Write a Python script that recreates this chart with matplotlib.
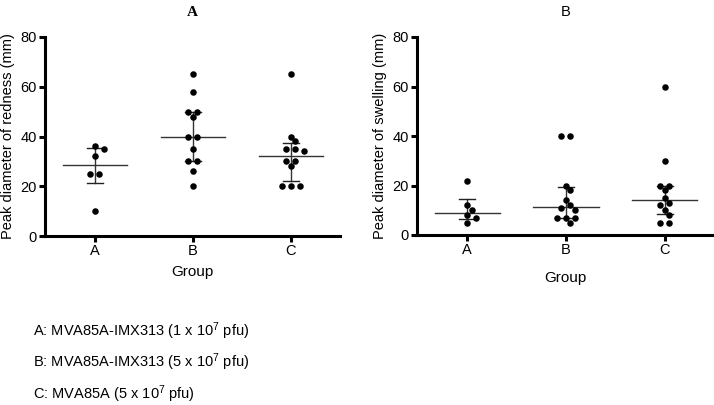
import numpy as np
import matplotlib
matplotlib.use("Agg")
import matplotlib.pyplot as plt

plt.rcParams['font.family'] = ['Liberation Sans', 'DejaVu Sans']
plt.rcParams['mathtext.fontset'] = 'custom'
plt.rcParams['mathtext.rm'] = 'Liberation Sans'
plt.rcParams['mathtext.it'] = 'Liberation Sans'

# dados
grupos = ["A", "B", "C"]
vermelhidao_A = [36, 35, 32, 25, 25, 10]
vermelhidao_B = [65, 58, 50, 50, 48, 40, 40, 35, 30, 30, 26, 20]
vermelhidao_C = [65, 40, 38, 35, 35, 34, 30, 30, 28, 20, 20, 20]
inchaco_A = [22, 12, 10, 8, 7, 5]
inchaco_B = [40, 40, 20, 18, 14, 12, 11, 10, 7, 7, 7, 5]
inchaco_C = [60, 30, 20, 20, 18, 15, 13, 12, 10, 8, 5, 5]
legenda = ["A: MVA85A-IMX313 (1 x 10$^{7}$ pfu)",
           "B: MVA85A-IMX313 (5 x 10$^{7}$ pfu)",
           "C: MVA85A (5 x 10$^{7}$ pfu)"]

W, H = 714, 405
fig = plt.figure(figsize=(W / 100, H / 100), dpi=100)

XLIM = (-0.51, 2.5)
YMAX = 80


def swarm(valores, px_x, px_y, passo=4.5, diam=5.5):
    # offsets tipo "beeswarm": repetidos centrados, depois desloca se colidir
    colocados = []
    xs = {}
    unicos = sorted(set(valores), reverse=True)
    for v in unicos:
        n = valores.count(v)
        base = [(i - (n - 1) / 2) * 2 * passo for i in range(n)]
        for shift in [0, passo, -passo, 2 * passo, -2 * passo, 3 * passo]:
            ok = True
            for b in base:
                for (cx, cy) in colocados:
                    if np.hypot(b + shift - cx, (v - cy) * px_y) < diam:
                        ok = False
            if ok:
                break
        offs = [b + shift for b in base]
        for o in offs:
            colocados.append((o, v))
        xs[v] = [o / px_x for o in offs]
    out = []
    for v in unicos:
        for o in xs[v]:
            out.append((o, v))
    return out


def painel(rect, dados, titulo, titulo_fonte, ylabel, xpad):
    ax = fig.add_axes(rect)
    px_x = rect[2] * W / (XLIM[1] - XLIM[0])
    px_y = rect[3] * H / YMAX
    for i, vals in enumerate(dados):
        pts = swarm(list(vals), px_x, px_y)
        ax.scatter([i + p[0] for p in pts], [p[1] for p in pts], s=22,
                   color="black", zorder=3, linewidths=0)
        q1, med, q3 = np.percentile(vals, [25, 50, 75], method="weibull")
        ax.plot([i - 0.33, i + 0.33], [med, med], color="#333333", lw=1)
        ax.plot([i, i], [q1, q3], color="#333333", lw=1)
        ax.plot([i - 0.08, i + 0.08], [q1, q1], color="#222222", lw=1)
        ax.plot([i - 0.08, i + 0.08], [q3, q3], color="#222222", lw=1)
    ax.set_xlim(*XLIM)
    ax.set_ylim(0, YMAX)
    ax.set_xticks(range(len(grupos)))
    ax.set_xticklabels(grupos)
    ax.set_yticks([0, 20, 40, 60, 80])
    ax.spines[["top", "right"]].set_visible(False)
    ax.spines[["left", "bottom"]].set_linewidth(2.2)
    ax.tick_params(width=2.2, length=4, labelsize=10.5, pad=2)
    ax.set_ylabel(ylabel, fontsize=10.5, labelpad=4)
    ax.set_xlabel("Group", fontsize=11, labelpad=xpad)
    ax.set_title(titulo, pad=15, **titulo_fonte)
    return ax


painel([45 / W, 1 - 236 / H, 295 / W, 199 / H],
       [vermelhidao_A, vermelhidao_B, vermelhidao_C], "A",
       dict(family="Liberation Serif", fontweight="bold", fontsize=11),
       "Peak diameter of redness (mm)", 5)
painel([417 / W, 1 - 235 / H, 297 / W, 198 / H],
       [inchaco_A, inchaco_B, inchaco_C], "B",
       dict(fontsize=10.5),
       "Peak diameter of swelling (mm)", 10)

for j, txt in enumerate(legenda):
    fig.text(33 / W, 1 - (331 + 31.5 * j) / H, txt, fontsize=10.5, va="center")

fig.savefig("out.png", dpi=100)
